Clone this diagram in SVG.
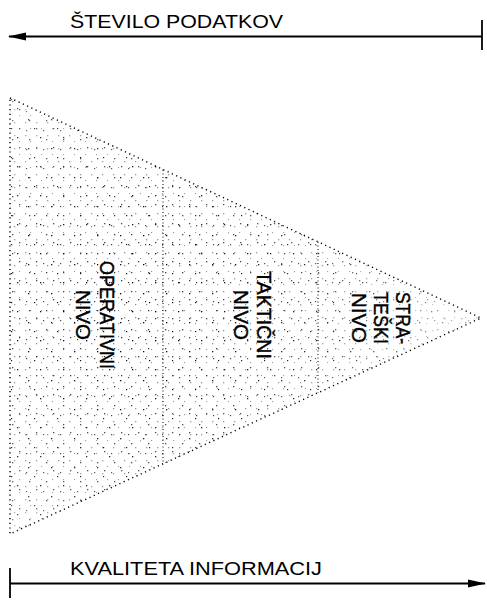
<svg xmlns="http://www.w3.org/2000/svg" width="487" height="603" viewBox="0 0 487 603">
<style>
.lbl{font-family:"Liberation Sans",Arial,sans-serif;font-size:19px;fill:#000}
.vl{font-family:"Liberation Sans",Arial,sans-serif;font-size:20px;fill:#000;stroke:#000;stroke-width:0.4;text-anchor:middle}
.ln{stroke:#000;stroke-width:1.8;fill:none}
.edge{stroke:#000;stroke-width:1.4;fill:none;stroke-dasharray:1.2 3.5}
.div{stroke:#000;stroke-width:1;fill:none;stroke-dasharray:1 2.5}
</style>
<defs>
<marker id="ah" viewBox="0 0 18 10" refX="17" refY="5" markerWidth="18" markerHeight="10" markerUnits="userSpaceOnUse" orient="auto">
<path d="M0,1 L18,5 L0,9 Z" fill="#000"/>
</marker>
<pattern id="p2" width="11" height="13" patternUnits="userSpaceOnUse"><rect x="3" y="5" width="1.3" height="1.3" fill="#000"/><rect x="8" y="11" width="1.1" height="1.1" fill="#000"/></pattern>
<pattern id="p3" width="17" height="19" patternUnits="userSpaceOnUse"><rect x="2" y="14" width="1.3" height="1.3" fill="#000"/><rect x="12" y="6" width="1.3" height="1.3" fill="#000"/><rect x="9" y="16" width="1.2" height="1.2" fill="#000"/></pattern>
<pattern id="p4" width="23" height="29" patternUnits="userSpaceOnUse"><rect x="5" y="3" width="1.3" height="1.3" fill="#000"/><rect x="17" y="21" width="1.3" height="1.3" fill="#000"/><rect x="11" y="12" width="1.2" height="1.2" fill="#000"/></pattern>
<clipPath id="tri"><path d="M10,98 L481,318 L10,534 Z"/></clipPath>
<radialGradient id="fade" cx="0.25" cy="0.5" r="0.7"><stop offset="0" stop-color="#fff" stop-opacity="0"/><stop offset="0.6" stop-color="#fff" stop-opacity="0.2"/><stop offset="1" stop-color="#fff" stop-opacity="0.6"/></radialGradient>
</defs>
<g id="pyramid">
<g clip-path="url(#tri)">
<rect x="10" y="98" width="472" height="436" fill="url(#p2)" opacity="0.45"/>
<rect x="10" y="98" width="472" height="436" fill="url(#p3)" opacity="0.8"/>
<rect x="10" y="98" width="472" height="436" fill="url(#p4)"/>
<rect x="10" y="98" width="472" height="436" fill="url(#fade)"/>
</g>
<path class="edge" d="M10,98 L481,318 L10,534 Z"/>
<line class="div" x1="163" y1="170" x2="163" y2="464"/>
<line class="div" x1="318" y1="242" x2="318" y2="393"/>
</g>
<g id="operativni">
<text class="vl" transform="translate(100,315) rotate(90)" textLength="108" lengthAdjust="spacingAndGlyphs">OPERATIVNI</text>
<text class="vl" transform="translate(76,315) rotate(90)" textLength="50" lengthAdjust="spacingAndGlyphs">NIVO</text>
</g>
<g id="takticni">
<text class="vl" transform="translate(257,315) rotate(90)" textLength="88" lengthAdjust="spacingAndGlyphs">TAKTIČNI</text>
<text class="vl" transform="translate(234,315) rotate(90)" textLength="50" lengthAdjust="spacingAndGlyphs">NIVO</text>
</g>
<g id="strateski">
<text class="vl" transform="translate(396,318) rotate(90)" textLength="52" lengthAdjust="spacingAndGlyphs">STRA-</text>
<text class="vl" transform="translate(374,318) rotate(90)" textLength="52" lengthAdjust="spacingAndGlyphs">TEŠKI</text>
<text class="vl" transform="translate(352,318) rotate(90)" textLength="50" lengthAdjust="spacingAndGlyphs">NIVO</text>
</g>
<g id="connectors">
<line class="ln" x1="482" y1="36.5" x2="9" y2="36.5" marker-end="url(#ah)"/>
<line class="ln" x1="482" y1="20" x2="482" y2="50"/>
<line class="ln" x1="10" y1="583.5" x2="485" y2="583.5" marker-end="url(#ah)"/>
<line class="ln" x1="10" y1="568" x2="10" y2="598"/>
</g>
<g id="labels">
<text class="lbl" x="70" y="28" textLength="213" lengthAdjust="spacingAndGlyphs">ŠTEVILO PODATKOV</text>
<text class="lbl" x="70" y="575" textLength="252" lengthAdjust="spacingAndGlyphs">KVALITETA INFORMACIJ</text>
</g>
</svg>
